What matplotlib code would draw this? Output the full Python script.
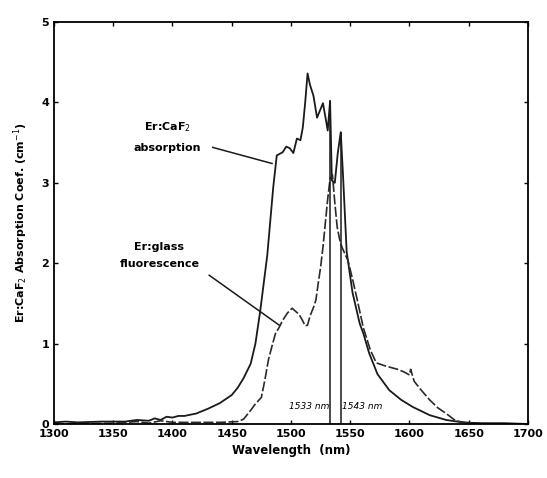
import matplotlib
matplotlib.use("Agg")
import matplotlib.pyplot as plt

# Er:CaF2 absorption (solid)
abs_nm = [1300, 1310, 1320, 1340, 1360, 1370, 1380, 1385, 1390, 1395, 1400, 1405,
          1410, 1420, 1430, 1440, 1450, 1455, 1460, 1466, 1470, 1474, 1477, 1480,
          1485, 1488, 1493, 1496, 1499, 1502, 1505, 1508, 1510, 1512, 1514, 1516,
          1519, 1522, 1524.5, 1527, 1529.5, 1531, 1533, 1534.5, 1537, 1539.5, 1542,
          1544, 1547, 1552, 1558, 1561, 1566, 1573, 1583, 1593, 1603, 1617, 1631,
          1645, 1660, 1680, 1700]
abs_val = [0.02, 0.03, 0.02, 0.03, 0.03, 0.05, 0.04, 0.07, 0.05, 0.09, 0.08, 0.1,
           0.1, 0.13, 0.19, 0.26, 0.36, 0.45, 0.57, 0.75, 1.0, 1.4, 1.75, 2.1,
           2.94, 3.34, 3.38, 3.45, 3.43, 3.37, 3.55, 3.53, 3.69, 4.0, 4.36, 4.22,
           4.08, 3.81, 3.9, 3.99, 3.78, 3.65, 4.02, 3.03, 3.0, 3.37, 3.63,
           3.07, 2.14, 1.63, 1.25, 1.13, 0.88, 0.62, 0.42, 0.3, 0.21, 0.11, 0.05,
           0.02, 0.01, 0.01, 0.0]

# Er:glass fluorescence (dashed)
fl_nm = [1300, 1350, 1370, 1380, 1390, 1400, 1420, 1440, 1455, 1460, 1466, 1470,
         1475, 1478, 1481, 1484, 1487, 1490, 1493, 1497, 1501, 1504, 1507, 1510,
         1512, 1514, 1516, 1519, 1521, 1523, 1525, 1527, 1529, 1531, 1533, 1535,
         1537, 1539, 1541, 1543, 1546, 1548, 1552, 1556, 1561, 1567, 1572, 1576,
         1580, 1585, 1590, 1595, 1600, 1601, 1604, 1610, 1617, 1624, 1631, 1639,
         1650, 1670, 1700]
fl_val = [0.0, 0.01, 0.03, 0.01, 0.04, 0.02, 0.02, 0.02, 0.03, 0.06, 0.17, 0.25,
          0.33, 0.55, 0.8, 0.97, 1.13, 1.2, 1.29, 1.38, 1.44, 1.4, 1.36, 1.28,
          1.22, 1.23, 1.34, 1.45, 1.54, 1.75, 1.95, 2.2, 2.5, 2.8, 3.05, 3.1,
          2.75, 2.45, 2.3, 2.2, 2.1, 2.04, 1.8, 1.54, 1.2, 0.92, 0.76, 0.74,
          0.72, 0.7, 0.68, 0.65, 0.61, 0.68, 0.53, 0.42, 0.3, 0.2, 0.13, 0.04,
          0.01, 0.0, 0.0]

peak_nm = [1533, 1542]
peak_val = [4.02, 3.63]
peak_labels = ["1533 nm", "1543 nm"]

xticks = list(range(1300, 1701, 50))
yticks = [0, 1, 2, 3, 4, 5]

fig = plt.figure(figsize=(5.47, 4.78), dpi=100)
ax = fig.add_axes([0.0987, 0.113, 0.8665, 0.841])

ax.plot(abs_nm, abs_val, color="#1a1a1a", lw=1.3)
ax.plot(fl_nm, fl_val, color="#2a2a2a", lw=1.2, linestyle=(0, (6, 1.5)))
ax.vlines(peak_nm, 0, peak_val, color="#1a1a1a", lw=1.1)

ax.text(1532, 0.22, peak_labels[0], fontsize=6.5, style="italic", ha="right", va="center")
ax.text(1543, 0.22, peak_labels[1], fontsize=6.5, style="italic", ha="left", va="center")

ax.text(1396, 3.69, "Er:CaF$_2$", fontsize=8, fontweight="bold", ha="center", va="center")
ax.text(1396, 3.43, "absorption", fontsize=8, fontweight="bold", ha="center", va="center")
ax.plot([1434, 1484], [3.44, 3.24], color="#1a1a1a", lw=1.1)

ax.text(1389, 2.2, "Er:glass", fontsize=8, fontweight="bold", ha="center", va="center")
ax.text(1389, 1.99, "fluorescence", fontsize=8, fontweight="bold", ha="center", va="center")
ax.plot([1431, 1490], [1.85, 1.23], color="#1a1a1a", lw=1.1)

ax.set_xlim(1300, 1700)
ax.set_ylim(0, 5)
ax.set_xticks(xticks)
ax.set_yticks(yticks)
ax.tick_params(direction="in", length=3, width=1, top=True, right=True,
               labelsize=8)
for lab in ax.get_xticklabels() + ax.get_yticklabels():
    lab.set_fontweight("bold")
for sp in ax.spines.values():
    sp.set_linewidth(1.3)

ax.set_xlabel("Wavelength  (nm)", fontsize=8.5, fontweight="bold", labelpad=4)
ax.set_ylabel("Er:CaF$_2$ Absorption Coef. (cm$^{-1}$)", fontsize=8, fontweight="bold", labelpad=8)

fig.savefig("out.png", dpi=100)
